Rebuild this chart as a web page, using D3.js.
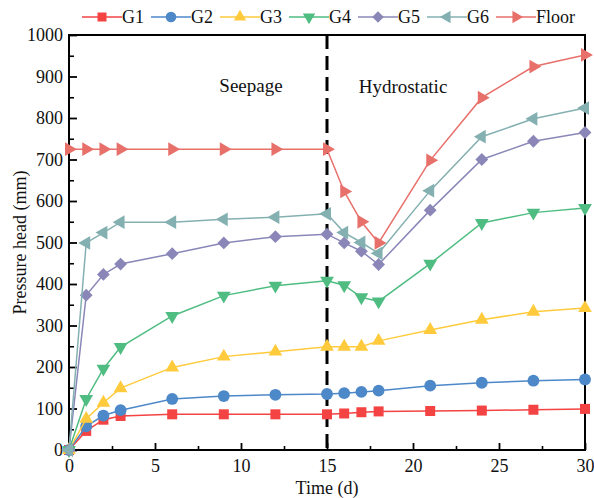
<!DOCTYPE html>
<html>
<head>
<meta charset="utf-8">
<script src="https://cdn.jsdelivr.net/npm/d3@7"></script>
<style>
  html, body { margin: 0; padding: 0; background: #fff; }
  svg, svg text { font-family: "Liberation Serif", "Times New Roman", serif; }
  svg { display: block; }
</style>
</head>
<body>
<div id="chart"></div>
<script>
const DAYS = [0, 1, 2, 3, 6, 9, 12, 15, 16, 17, 18, 21, 24, 27, 30]
const G1 = [0, 46, 73, 82, 86, 86, 86, 86, 88, 91, 93, 94, 95, 97, 99]
const G2 = [0, 57, 83, 96, 123, 130, 133, 135, 137, 140, 143, 155, 162, 167, 170]
const G3 = [0, 75, 114, 149, 199, 225, 237, 249, 249, 249, 263, 289, 314, 333, 342]
const G4 = [0, 123, 196, 248, 323, 372, 396, 408, 397, 368, 358, 449, 547, 572, 583]
const G5 = [0, 373, 423, 448, 473, 499, 514, 520, 499, 479, 447, 578, 700, 744, 765]
const G6 = [0, 499, 524, 549, 549, 556, 561, 569, 524, 500, 474, 625, 755, 798, 824]
const FLOOR = [725, 725, 725, 725, 725, 725, 725, 725, 623, 550, 499, 698, 849, 924, 952]

const SERIES = [
  { name: "G1", values: G1, color: "#f44343", shape: "square" },
  { name: "G2", values: G2, color: "#4d88c8", shape: "circle" },
  { name: "G3", values: G3, color: "#ffcb3c", shape: "up" },
  { name: "G4", values: G4, color: "#4fbd82", shape: "down" },
  { name: "G5", values: G5, color: "#8a87b8", shape: "diamond" },
  { name: "G6", values: G6, color: "#85b0b1", shape: "left" },
  { name: "Floor", values: FLOOR, color: "#e8706b", shape: "right" }
]

const X_TICKS = [0, 5, 10, 15, 20, 25, 30]
const Y_TICKS = [0, 100, 200, 300, 400, 500, 600, 700, 800, 900, 1000]

const width = 594
const height = 498
const plotL = 69, plotR = 585, plotT = 35, plotB = 450

const x = d3.scaleLinear().domain([0, 30]).range([plotL, plotR])
const y = d3.scaleLinear().domain([0, 1000]).range([plotB, plotT])

const svg = d3.select("#chart").append("svg")
  .attr("width", width)
  .attr("height", height)

function markerPath(shape) {
  if (shape === "square") return d3.symbol(d3.symbolSquare, 100)()
  if (shape === "circle") return d3.symbol(d3.symbolCircle, 110)()
  if (shape === "diamond") return d3.symbol(d3.symbolSquare, 82)()
  return d3.symbol(d3.symbolTriangle, 82)()
}
function markerRotate(shape) {
  if (shape === "down") return 180
  if (shape === "left") return -90
  if (shape === "right") return 90
  if (shape === "diamond") return 45
  return 0
}

const serif = "'Liberation Serif', 'Times New Roman', serif"

// Minor ticks (inward)
const xMinor = d3.range(2.5, 30, 5)
const yMinor = d3.range(50, 1000, 100)

svg.append("g")
  .attr("transform", `translate(0,${plotB})`)
  .call(d3.axisBottom(x).tickValues(xMinor).tickSize(-4).tickFormat(""))
  .call(g => g.select(".domain").remove())
  .selectAll("line").attr("stroke-width", 1.6)

svg.append("g")
  .attr("transform", `translate(${plotL},0)`)
  .call(d3.axisLeft(y).tickValues(yMinor).tickSize(-5).tickFormat(""))
  .call(g => g.select(".domain").remove())
  .selectAll("line").attr("stroke-width", 1.6)

// Major axes
const xAxis = svg.append("g")
  .attr("transform", `translate(0,${plotB})`)
  .call(d3.axisBottom(x).tickValues(X_TICKS).tickSizeInner(-7).tickSizeOuter(0).tickPadding(8).tickFormat(d3.format("d")))
  .attr("font-family", null)
  .attr("font-size", null)
xAxis.select(".domain").remove()
xAxis.selectAll("line").attr("stroke-width", 1.8)
xAxis.selectAll("text")
  .style("font-family", serif).style("font-size", "18px")
  .attr("fill", "#111").attr("dy", "0.75em")

const yAxis = svg.append("g")
  .attr("transform", `translate(${plotL},0)`)
  .call(d3.axisLeft(y).tickValues(Y_TICKS).tickSizeInner(-8).tickSizeOuter(0).tickPadding(6).tickFormat(d3.format("d")))
  .attr("font-family", null)
  .attr("font-size", null)
yAxis.select(".domain").remove()
yAxis.selectAll("line").attr("stroke-width", 1.8)
yAxis.selectAll("text")
  .style("font-family", serif).style("font-size", "18px")
  .attr("fill", "#111")

// Frame
svg.append("rect")
  .attr("x", plotL).attr("y", plotT)
  .attr("width", plotR - plotL).attr("height", plotB - plotT)
  .attr("fill", "none").attr("stroke", "#000").attr("stroke-width", 2)

// Phase divider
svg.append("line")
  .attr("x1", x(15)).attr("x2", x(15))
  .attr("y1", plotT).attr("y2", plotB)
  .attr("stroke", "#000").attr("stroke-width", 3)
  .attr("stroke-dasharray", "14,7")

svg.append("text").attr("x", 251).attr("y", 92)
  .attr("text-anchor", "middle").style("font-size", "19px").attr("fill", "#111")
  .text("Seepage")
svg.append("text").attr("x", 403).attr("y", 93)
  .attr("text-anchor", "middle").style("font-size", "19px").attr("fill", "#111")
  .text("Hydrostatic")

// Series
const line = d3.line().x((d, i) => x(DAYS[i])).y(d => y(d))

for (const s of SERIES) {
  const g = svg.append("g")
  g.append("path")
    .attr("d", line(s.values))
    .attr("fill", "none")
    .attr("stroke", s.color)
    .attr("stroke-width", 1.5)
  g.selectAll("path.mk")
    .data(s.values)
    .enter()
    .append("path")
    .attr("class", "mk")
    .attr("d", markerPath(s.shape))
    .attr("transform", (d, i) => `translate(${x(DAYS[i])},${y(d)}) rotate(${markerRotate(s.shape)})`)
    .attr("fill", s.color)
}

// Axis titles
svg.append("text")
  .attr("x", (plotL + plotR) / 2).attr("y", 494)
  .attr("text-anchor", "middle").style("font-size", "18px").attr("fill", "#111")
  .text("Time (d)")
svg.append("text")
  .attr("transform", `translate(26,${(plotT + plotB) / 2}) rotate(-90)`)
  .attr("text-anchor", "middle").style("font-size", "18px").attr("fill", "#111")
  .text("Pressure head (mm)")

// Legend
const legend = svg.append("g").attr("transform", "translate(0,17)")
let lx = 82
for (const s of SERIES) {
  legend.append("line")
    .attr("x1", lx).attr("x2", lx + 40)
    .attr("stroke", s.color).attr("stroke-width", 1.5)
  legend.append("path")
    .attr("d", markerPath(s.shape))
    .attr("transform", `translate(${lx + 20},0) rotate(${markerRotate(s.shape)}) scale(0.9)`)
    .attr("fill", s.color)
  const t = legend.append("text")
    .attr("x", lx + 40).attr("y", 6)
    .style("font-size", "18px").attr("fill", "#111")
    .text(s.name)
  lx += 40 + t.node().getComputedTextLength() + 7
}
</script>
</body>
</html>
